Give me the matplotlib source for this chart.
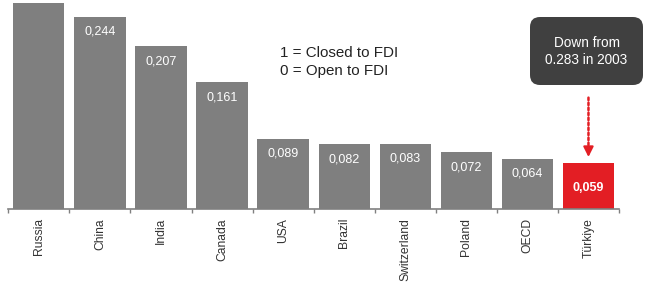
import matplotlib.pyplot as plt
import matplotlib.patches as mpatches
import numpy as np

plt.rcParams["font.family"] = ["Liberation Sans", "DejaVu Sans"]

countries = ["Russia", "China", "India", "Canada", "USA", "Brazil",
             "Switzerland", "Poland", "OECD", "Türkiye"]
values = [0.262, 0.244, 0.207, 0.161, 0.089, 0.082, 0.083, 0.072, 0.064, 0.059]
labels = ["", "0,244", "0,207", "0,161", "0,089", "0,082", "0,083", "0,072", "0,064", "0,059"]
highlight = "Türkiye"

gray = "#7f7f7f"
red = "#e31e24"
colors = [red if c == highlight else gray for c in countries]

fig = plt.figure(figsize=(6.48, 2.84), dpi=100)
ax = fig.add_axes([8.3 / 648, 75 / 284, (619 - 8.3) / 648, 209 / 284])

x = np.arange(len(countries))
ax.bar(x, values, width=0.84, color=colors)
ax.set_xlim(-0.5, len(countries) - 0.5)
ax.set_ylim(0, 0.2655)

for xi, v, lab, c in zip(x, values, labels, countries):
    if not lab:
        continue
    if c == highlight:
        ax.text(xi, v / 2 - 0.003, lab, ha="center", va="center", color="white",
                fontsize=9, fontweight="bold")
    else:
        ax.text(xi, v - 0.019, lab, ha="center", va="center", color="white", fontsize=9)

for s in ["top", "left", "right"]:
    ax.spines[s].set_visible(False)
ax.spines["bottom"].set_color("#808080")
ax.spines["bottom"].set_linewidth(1.2)
ax.set_yticks([])
ax.set_xticks(x)
ax.set_xticklabels(countries, rotation=90, fontsize=8.7, color="#333333")
ax.tick_params(axis="x", which="major", length=0, pad=6.5)
ax.set_xticks(np.arange(len(countries) + 1) - 0.5, minor=True)
ax.tick_params(axis="x", which="minor", length=3, color="#808080", width=1)

fig.text(280 / 648, 1 - 62 / 284, "1 = Closed to FDI\n0 = Open to FDI", ha="left",
         va="center", fontsize=10.9, color="#222222", linespacing=1.3)

# callout box
box = mpatches.FancyBboxPatch((5.30, (284 - 85) / 100), 1.13, 0.68,
                              boxstyle="round,pad=0,rounding_size=0.1",
                              fc="#404040", ec="none", transform=fig.dpi_scale_trans)
fig.patches.append(box)
fig.text(586.5 / 648, 1 - 51.5 / 284, "Down from\n0.283 in 2003", ha="center", va="center",
         fontsize=9.8, color="white", linespacing=1.28)

ti = countries.index(highlight)
ax.annotate("", xy=(ti, 0.075), xytext=(ti, 0.145), annotation_clip=False,
            arrowprops=dict(arrowstyle="-", color=red, lw=1.8, linestyle=(0, (1, 1))))
ax.annotate("", xy=(ti, 0.0625), xytext=(ti, 0.077), annotation_clip=False,
            arrowprops=dict(arrowstyle="-|>,head_width=0.3,head_length=0.6",
                            color=red, lw=1.5))

fig.savefig("out.png", dpi=100)
